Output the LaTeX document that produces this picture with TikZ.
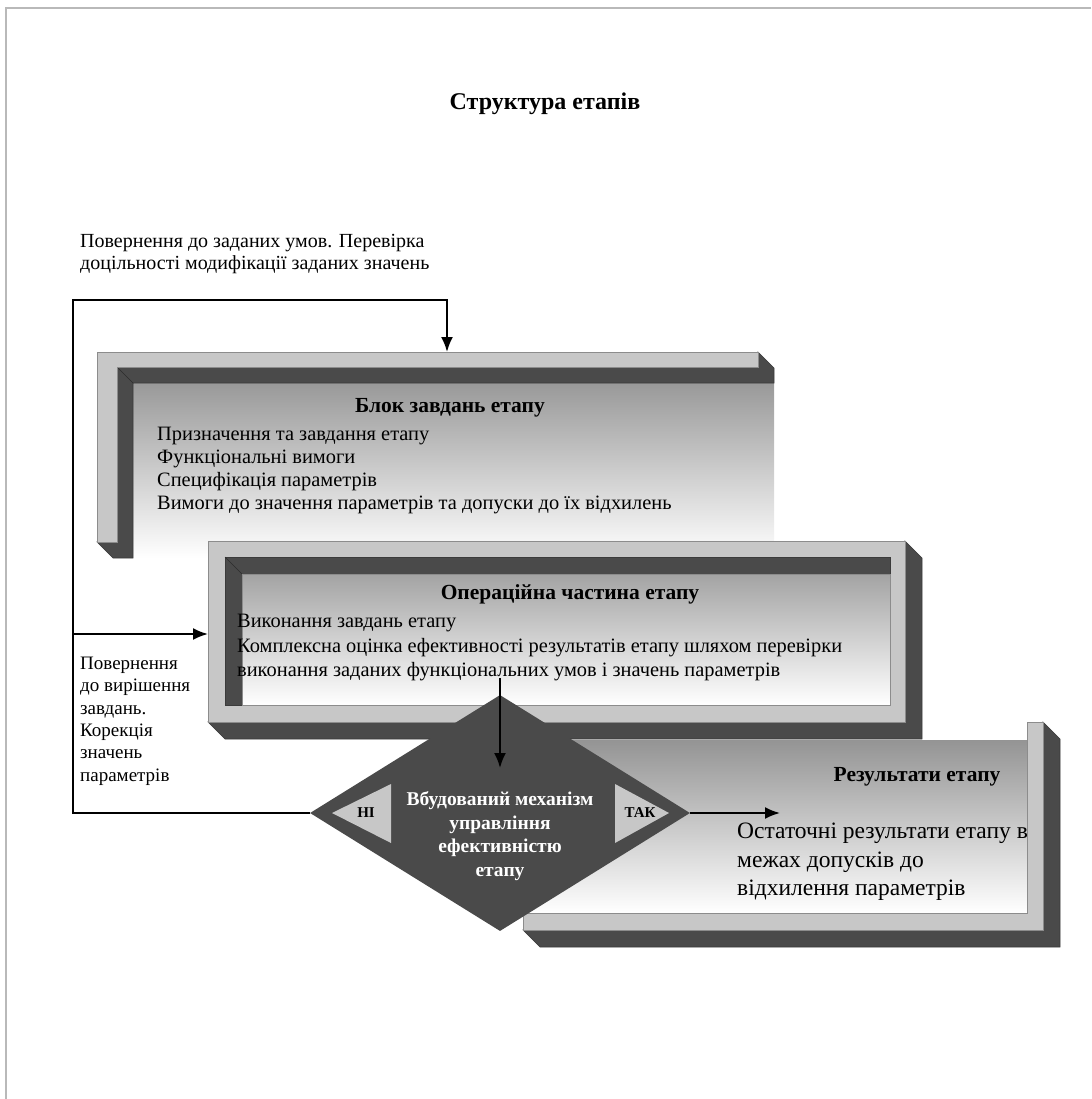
\documentclass[tikz,border=0pt]{standalone}
\usepackage{fontspec}
\setmainfont{Liberation Serif}
\usetikzlibrary{positioning,arrows.meta,calc,shapes.geometric}
\tikzset{line/.style={draw, line width=2pt, -{Latex[length=15pt,width=12pt]}}}
\definecolor{rim}{gray}{0.78}
\definecolor{wall}{gray}{0.29}
\definecolor{edge}{gray}{0.55}

\begin{document}
\begin{tikzpicture}[x=1pt,y=-1pt]
\tikzstyle{face} = [fill=rim, draw=edge, line width=0.6pt]
\tikzstyle{depth} = [fill=wall, draw=wall!80!black, line width=0.6pt]
\tikzstyle{txt} = [inner sep=0pt, align=left, font=\fontsize{20.4}{23}\selectfont]
\tikzstyle{hdr} = [inner sep=0pt, font=\bfseries\fontsize{21.5}{25}\selectfont]
\useasboundingbox (0,0) rectangle (1091,1099);

% frame
    \draw[gray!55, line width=1.5pt] (6,1099) -- (6,8) -- (1091,8);
    \node [hdr, font=\bfseries\fontsize{24}{28}\selectfont] (title) at (545,104) {Структура етапів};

% block of tasks
    \shade[top color=black!40, bottom color=white] (133,383) rectangle (774,558);
    \path[depth] (758,352) -- (774,368) -- (774,383) -- (133,383) -- (133,558) -- (113,558)
        -- (97,542) -- (117,542) -- (117,367) -- (758,367) -- cycle;
    \draw[wall!60!black, line width=0.5pt] (117,367) -- (133,383);
    \path[face] (97,352) -- (758,352) -- (758,367) -- (117,367) -- (117,542) -- (97,542) -- cycle;
    \node [hdr] (tasks) at (450,408) {Блок завдань етапу};
    \node [txt, anchor=west] (tasklist) at (157,471) {Призначення та завдання етапу\\Функціональні вимоги\\Специфікація параметрів\\Вимоги до значення параметрів та допуски до їх відхилень};

% operational part
    \path[depth] (905,541) -- (922,558) -- (922,739) -- (225,739) -- (208,722) -- (905,722) -- cycle;
    \path[face, even odd rule] (208,541) rectangle (905,722) (225,557) rectangle (890,705);
    \path[depth] (225,557) -- (890,557) -- (890,574) -- (242,574) -- (242,705) -- (225,705) -- cycle;
    \draw[wall!60!black, line width=0.5pt] (225,557) -- (242,574);
    \shade[top color=black!36, bottom color=white, draw=edge, line width=0.6pt] (242,574) rectangle (890,705);
    \node [hdr] (oper) at (570,594) {Операційна частина етапу};
    \node [txt, anchor=west, font=\fontsize{20.4}{24.5}\selectfont] (operlist) at (237,648) {Виконання завдань етапу\\Комплексна оцінка ефективності результатів етапу шляхом перевірки\\виконання заданих функціональних умов і значень параметрів};

% results
    \shade[top color=black!42, bottom color=white] (523,740) rectangle (1027,913);
    \path[depth] (1043,722) -- (1060,739) -- (1060,947) -- (540,947) -- (523,930) -- (1043,930) -- cycle;
    \path[face] (1027,722) -- (1043,722) -- (1043,930) -- (523,930) -- (523,913) -- (1027,913) -- cycle;
    \node [hdr] (result) at (917,777) {Результати етапу};
    \node [txt, anchor=west, font=\fontsize{23.5}{28.5}\selectfont] (resultlist) at (737,862) {Остаточні результати етапу в\\межах допусків до\\відхилення параметрів};

% decision
    \node [diamond, fill=wall, minimum width=380pt, minimum height=236pt, inner sep=0pt] (mech) at (500,813) {};
    \fill[rim] (391,784) -- (332,813) -- (391,843) -- cycle;
    \fill[rim] (615,784) -- (669,813) -- (615,843) -- cycle;
    \node [inner sep=0pt, font=\bfseries\fontsize{15}{17}\selectfont] (no) at (366,813) {НІ};
    \node [inner sep=0pt, font=\bfseries\fontsize{15}{17}\selectfont] (yes) at (640,813) {ТАК};
    \node [inner sep=0pt, align=center, text=white, font=\bfseries\fontsize{19.5}{23.5}\selectfont] (mechtext) at (500,836) {Вбудований механізм\\управління\\ефективністю\\етапу};

% side notes
    \node [txt, font=\fontsize{20}{21.5}\selectfont, anchor=west] (backgoal) at (80,254) {Повернення до заданих умов. Перевірка\\доцільності модифікації заданих значень};
    \node [txt, font=\fontsize{19}{22.4}\selectfont, anchor=west] (backtask) at (80,721) {Повернення\\до вирішення\\завдань.\\Корекція\\значень\\параметрів};

% arrows
    \coordinate (loopbot) at (73,813);
    \coordinate (looptop) at (73,300);
    \coordinate (loopmid) at (73,634);
    \coordinate (taskin) at (447,352);
    \coordinate (operin) at (208,634);
    \coordinate (operout) at (500,678);
    \coordinate (mechin) at (500,768);
    \coordinate (resultin) at (780,813);
    \path [line] (mech.west) -- (loopbot) -- (looptop) -| (taskin);
    \path [line] (loopmid) -- (operin);
    \path [line] (operout) -- (mechin);
    \path [line] (mech.east) -- (resultin);
\end{tikzpicture}
\end{document}
